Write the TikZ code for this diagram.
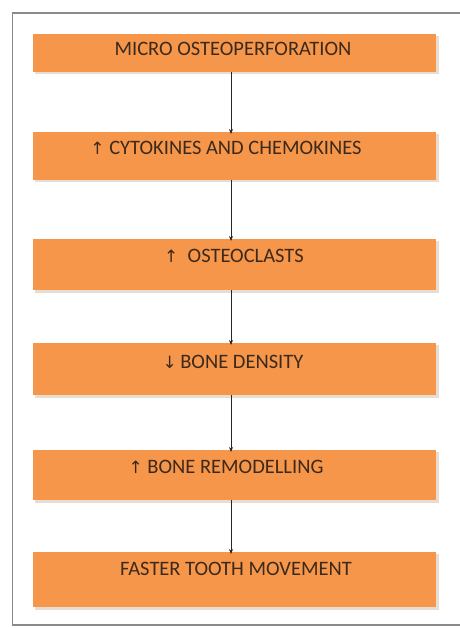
\documentclass[tikz,border=0pt]{standalone}
\usepackage{fontspec}
\setmainfont{Carlito}
\newfontfamily\symfont{DejaVu Sans}
\usetikzlibrary{arrows.meta}
\definecolor{boxorange}{HTML}{F6964A}
\definecolor{boxshadow}{HTML}{E9DDD2}
\definecolor{txtdark}{HTML}{3B2A1C}
\definecolor{framegray}{HTML}{8A8A8A}
\tikzset{
  flowbox/.style={rectangle, fill=boxorange, minimum width=403pt, inner sep=0pt, outer sep=0pt},
  flowtext/.style={text=txtdark, font=\fontsize{20.5}{22}\selectfont, inner sep=0pt},
  flowarrow/.style={draw=black!85, line width=0.8pt, -{Stealth[length=5pt,width=4pt]}},
}
\newcommand{\uparr}{{\symfont\fontsize{17}{17}\selectfont ↑}}
\newcommand{\downarr}{{\symfont\fontsize{17}{17}\selectfont ↓}}
\begin{document}
\begin{tikzpicture}[x=1pt,y=-1pt]
\useasboundingbox (0,0) rectangle (459,628);
\fill[white] (0,0) rectangle (459,628);
% frame
\draw[framegray, line width=1.5pt] (470,13) -- (12.5,13) -- (12.5,625) -- (470,625);
% shadows
\foreach \t/\b in {34/72,132/180,239/290,343/395,450/500,552/607}{
  \fill[boxshadow] (35,\t+2) rectangle (438.5,\b+2.5);
}
% boxes
\node[flowbox, minimum height=38pt, anchor=north west] (b1) at (33,34) {};
\node[flowbox, minimum height=48pt, anchor=north west] (b2) at (33,132) {};
\node[flowbox, minimum height=51pt, anchor=north west] (b3) at (33,239) {};
\node[flowbox, minimum height=52pt, anchor=north west] (b4) at (33,343) {};
\node[flowbox, minimum height=50pt, anchor=north west] (b5) at (33,450) {};
\node[flowbox, minimum height=55pt, anchor=north west] (b6) at (33,552) {};
% texts
\node[flowtext] (t1) at (233,49) {MICRO OSTEOPERFORATION};
\node[flowtext] (t2) at (226,148) {\uparr\ CYTOKINES AND CHEMOKINES};
\node[flowtext] (t3) at (234,256) {\uparr\ \ OSTEOCLASTS};
\node[flowtext] (t4) at (233,362) {\downarr\,BONE DENSITY};
\node[flowtext] (t5) at (226,467) {\uparr\ BONE REMODELLING};
\node[flowtext] (t6) at (236,569) {FASTER TOOTH MOVEMENT};
% connectors
\draw[flowarrow] ([xshift=-3.5pt]b1.south) -- ([xshift=-3.5pt,yshift=-2pt]b2.north);
\draw[flowarrow] ([xshift=-3.5pt]b2.south) -- ([xshift=-3.5pt,yshift=-2pt]b3.north);
\draw[flowarrow] ([xshift=-3.5pt]b3.south) -- ([xshift=-3.5pt,yshift=-2pt]b4.north);
\draw[flowarrow] ([xshift=-3.5pt]b4.south) -- ([xshift=-3.5pt,yshift=-2pt]b5.north);
\draw[flowarrow] ([xshift=-3.5pt]b5.south) -- ([xshift=-3.5pt,yshift=-2pt]b6.north);
\end{tikzpicture}
\end{document}
